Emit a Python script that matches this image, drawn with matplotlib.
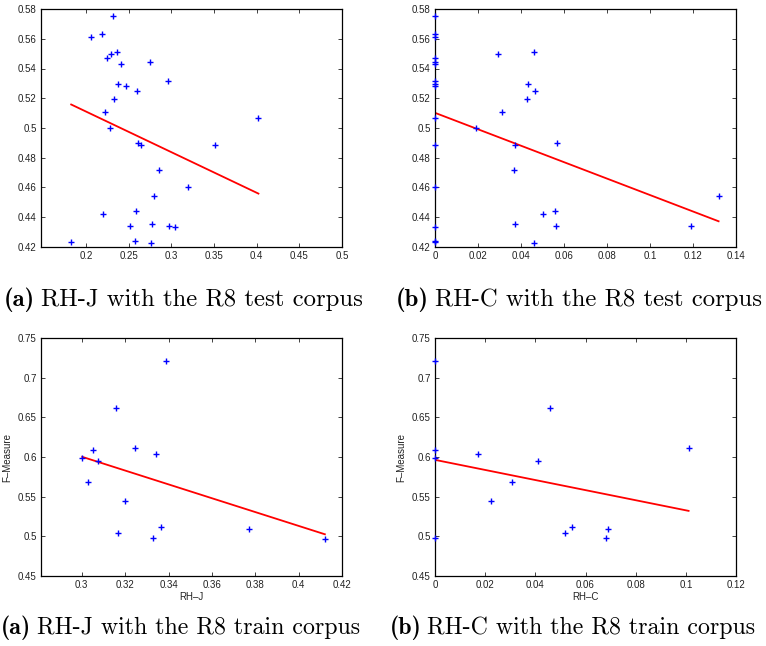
import numpy as np
import matplotlib
matplotlib.use("Agg")
import matplotlib.pyplot as plt

# R8 test corpus: RH-J, RH-C et F-Measure
test_rhj = [0.2314, 0.2055, 0.2188, 0.2357, 0.2294, 0.2243, 0.2412, 0.2749,
            0.2369, 0.2471, 0.2596, 0.2961, 0.2322, 0.2220, 0.2282, 0.4020,
            0.2604, 0.2643, 0.3514, 0.2855, 0.3196, 0.2796, 0.2192, 0.2580,
            0.2510, 0.2769, 0.2969, 0.3047, 0.1824, 0.2569, 0.2757]
test_rhj_f = [0.5753, 0.5609, 0.5629, 0.5510, 0.5497, 0.5470, 0.5427, 0.5445,
              0.5297, 0.5284, 0.5250, 0.5313, 0.5194, 0.5109, 0.4999, 0.5064,
              0.4902, 0.4887, 0.4889, 0.4716, 0.4604, 0.4543, 0.4424, 0.4442,
              0.4341, 0.4355, 0.4341, 0.4337, 0.4231, 0.4243, 0.4225]
test_rhj_fit_x = [0.1824, 0.4020]
test_rhj_fit_y = [0.5158, 0.4559]

test_rhc = [0, 0, 0, 0, 0, 0, 0, 0, 0, 0, 0, 0, 0, 0, 0,
            0.0295, 0.0462, 0.0434, 0.0467, 0.0426, 0.0310, 0.0191, 0.0372,
            0.0567, 0.0369, 0.0502, 0.0560, 0.0371, 0.0564, 0.0459, 0.1191, 0.1319]
test_rhc_f = [0.5753, 0.5629, 0.5609, 0.5470, 0.5445, 0.5427, 0.5313, 0.5297,
              0.5284, 0.5064, 0.4889, 0.4604, 0.4337, 0.4243, 0.4231,
              0.5497, 0.5510, 0.5297, 0.5250, 0.5194, 0.5109, 0.4999, 0.4887,
              0.4902, 0.4716, 0.4422, 0.4442, 0.4355, 0.4341, 0.4225, 0.4341, 0.4543]
test_rhc_fit_x = [0.0, 0.1319]
test_rhc_fit_y = [0.5102, 0.4373]

# R8 train corpus
train_rhj = [0.3389, 0.3157, 0.3054, 0.3002, 0.3077, 0.3247, 0.3341,
             0.3031, 0.3201, 0.3165, 0.3364, 0.3327, 0.3771, 0.4121]
train_rhj_f = [0.7206, 0.6621, 0.6091, 0.5990, 0.5952, 0.6116, 0.6040,
               0.5687, 0.5443, 0.5039, 0.5115, 0.4976, 0.5089, 0.4967]
train_rhj_fit_x = [0.3002, 0.4121]
train_rhj_fit_y = [0.6002, 0.5026]

train_rhc = [0, 0, 0, 0, 0.0173, 0.0412, 0.0457, 0.0222, 0.0307,
             0.0518, 0.0545, 0.0682, 0.0691, 0.1011]
train_rhc_f = [0.7206, 0.6091, 0.5990, 0.4976, 0.6040, 0.5952, 0.6621,
               0.5443, 0.5687, 0.5039, 0.5115, 0.4976, 0.5089, 0.6116]
train_rhc_fit_x = [0.0, 0.1011]
train_rhc_fit_y = [0.5964, 0.5321]

cap_tags = ['(a)', '(b)', '(a)', '(b)']
cap_texts = ['RH-J with the R8 test corpus', 'RH-C with the R8 test corpus',
             'RH-J with the R8 train corpus', 'RH-C with the R8 train corpus']

plt.rcParams['font.family'] = ['Liberation Sans', 'DejaVu Sans']

fig = plt.figure(figsize=(7.66, 6.46), dpi=100)

W, H = 301 / 766, 238 / 646
ax1 = fig.add_axes([41 / 766, 1 - 247 / 646, W, H])
ax2 = fig.add_axes([435 / 766, 1 - 247 / 646, W, H])
ax3 = fig.add_axes([41 / 766, 1 - 576 / 646, W, H])
ax4 = fig.add_axes([435 / 766, 1 - 576 / 646, W, H])

panels = [
    (ax1, test_rhj, test_rhj_f, test_rhj_fit_x, test_rhj_fit_y),
    (ax2, test_rhc, test_rhc_f, test_rhc_fit_x, test_rhc_fit_y),
    (ax3, train_rhj, train_rhj_f, train_rhj_fit_x, train_rhj_fit_y),
    (ax4, train_rhc, train_rhc_f, train_rhc_fit_x, train_rhc_fit_y),
]

for ax, x, y, fx, fy in panels:
    ax.plot(x, y, '+', color='#0000ff', markersize=5, markeredgewidth=1.0,
            clip_on=False, zorder=3)
    ax.plot(fx, fy, '-', color='#ff0000', linewidth=1.3, zorder=2)
    ax.tick_params(direction='in', top=True, right=True, length=3,
                   width=0.6, labelsize=7, colors='#222222', pad=3)
    for s in ax.spines.values():
        s.set_linewidth(0.9)

# échelles des axes
ax1.set_xlim(0.147, 0.5)
ax1.set_xticks(np.arange(0.2, 0.501, 0.05))
ax1.set_xticklabels(['0.2', '0.25', '0.3', '0.35', '0.4', '0.45', '0.5'])
ax2.set_xlim(0, 0.14)
ax2.set_xticks(np.arange(0, 0.141, 0.02))
ax2.set_xticklabels(['0', '0.02', '0.04', '0.06', '0.08', '0.1', '0.12', '0.14'])
for ax in (ax1, ax2):
    ax.set_ylim(0.42, 0.58)
    ax.set_yticks(np.arange(0.42, 0.581, 0.02))
    ax.set_yticklabels(['0.42', '0.44', '0.46', '0.48', '0.5', '0.52', '0.54', '0.56', '0.58'])

ax3.set_xlim(0.2812, 0.42)
ax3.set_xticks(np.arange(0.3, 0.421, 0.02))
ax3.set_xticklabels(['0.3', '0.32', '0.34', '0.36', '0.38', '0.4', '0.42'])
ax4.set_xlim(0, 0.12)
ax4.set_xticks(np.arange(0, 0.121, 0.02))
ax4.set_xticklabels(['0', '0.02', '0.04', '0.06', '0.08', '0.1', '0.12'])
for ax in (ax3, ax4):
    ax.set_ylim(0.45, 0.75)
    ax.set_yticks(np.arange(0.45, 0.751, 0.05))
    ax.set_yticklabels(['0.45', '0.5', '0.55', '0.6', '0.65', '0.7', '0.75'])
    ax.set_ylabel('F\u2013Measure', fontsize=7, color='#222222', labelpad=4)

ax3.set_xlabel('RH\u2013J', fontsize=7, color='#222222', labelpad=1)
ax4.set_xlabel('RH\u2013C', fontsize=7, color='#222222', labelpad=1)

# légendes des sous-figures : "(a)" en gras puis le texte
pos = [(4, 306), (396, 306), (1, 634), (390, 634)]
sizes = [17.8, 17.8, 17.2, 17.2]
renderer = fig.canvas.get_renderer()
for (px, py), fs, tag, txt in zip(pos, sizes, cap_tags, cap_texts):
    t1 = fig.text(px / 766, 1 - py / 646, tag, family='cmb10', fontsize=fs,
                  ha='left', va='baseline')
    bb = t1.get_window_extent(renderer)
    x2 = (bb.x1 + fs * 0.33) / 766
    fig.text(x2, 1 - py / 646, txt, family='cmr10', fontsize=fs,
             ha='left', va='baseline')

plt.savefig('out.png', dpi=100)
